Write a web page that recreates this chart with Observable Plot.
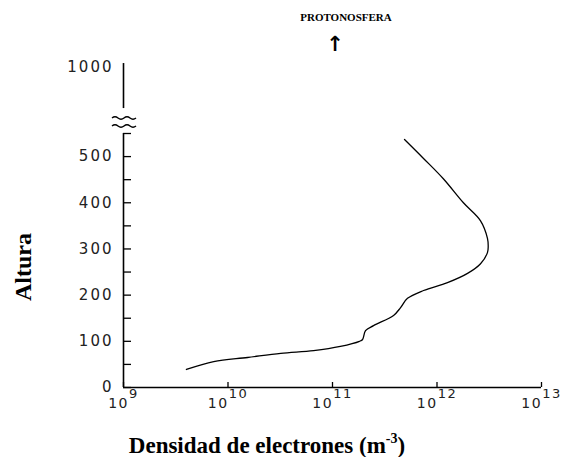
<!DOCTYPE html>
<html><head><meta charset="utf-8">
<script src="https://cdn.jsdelivr.net/npm/d3@7"></script>
<script src="https://cdn.jsdelivr.net/npm/@observablehq/plot@0.6"></script>
<style>
html,body{margin:0;padding:0;background:#fff;}
#chart{position:relative;width:565px;height:457px;}
</style></head><body><div id="chart"></div>
<script>
// Data
const altura   = [39, 56, 65, 74, 80, 89, 100, 104, 123, 134, 156, 173, 193, 210, 227, 247, 268, 292, 305, 323, 361, 400, 452, 496, 537];
const densidad = [4.0e9, 7.3e9, 1.54e10, 3.2e10, 6.6e10, 1.19e11, 1.81e11, 1.94e11, 2.07e11, 2.47e11, 3.84e11, 4.48e11, 5.22e11, 7.43e11, 1.26e12, 1.96e12, 2.61e12, 3.04e12, 3.09e12, 3.04e12, 2.61e12, 1.79e12, 1.15e12, 7.43e11, 4.89e11];

const xTicks = [1e9, 1e10, 1e11, 1e12, 1e13];
const yTickLabels = [0, 100, 200, 300, 400, 500, 1000];
const yTicks = [0, 50, 100, 150, 200, 250, 300, 350, 400, 450, 500, 550];
const yAxisSegments = [[0, 550], [720, 1027]];
const yBreak = 625;

const profile = altura.map((h, i) => ({h, n: densidad[i]}));

const tickFont = "DejaVu Sans";

const plot = Plot.plot({
  width: 565, height: 457,
  marginLeft: 123, marginRight: 24, marginTop: 60, marginBottom: 70,
  style: {background: "white", overflow: "visible"},
  x: {type: "log", domain: [1e9, 1e13]},
  y: {type: "linear", domain: [0, 550, 1000], range: [387, 133, 67]},
  marks: [
    // axis lines
    Plot.ruleX(yAxisSegments, {x: () => 1e9, y1: d => d[0], y2: d => d[1], strokeWidth: 1.6}),
    Plot.ruleY([0], {x1: 1e9, x2: 1e13, strokeWidth: 1.6}),
    // inward ticks
    Plot.ruleY(yTicks, {x1: 1e9, x2: 1e9, insetRight: -8, strokeWidth: 1.3}),
    Plot.ruleX(xTicks, {y1: 0, y2: 0, insetTop: -5, strokeWidth: 1.3}),
    // tick labels
    Plot.axisY(yTickLabels, {tickSize: 0, tickPadding: 10, fontSize: 15, fontFamily: tickFont, label: null, tickFormat: d => String(d)}),
    Plot.axisX(xTicks, {tickSize: 0, tickPadding: 11, fontSize: 14, fontFamily: tickFont, label: null, tickFormat: d => "10^" + Math.round(Math.log10(d))}),
    // profile
    Plot.line(profile, {x: "n", y: "h", curve: "catmull-rom", strokeWidth: 1.3, stroke: "black"})
  ]
});

const svg = d3.select(plot);
svg.selectAll('g[aria-label="y-axis tick label"] text').style("letter-spacing", "2px").style("fill", "#222");
svg.selectAll('g[aria-label="x-axis tick label"] text').each(function() {
  const t = this.textContent;
  const parts = t.split("^");
  const el = d3.select(this);
  el.text(null).style("letter-spacing", "1.5px").style("fill", "#222");
  el.append("tspan").text(parts[0]);
  el.append("tspan").attr("dy", "-10").style("font-size", "13px").text(parts[1]);
});

// axis break marks, placed through the scales
const bx = plot.scale("x").apply(1e9);
const by = plot.scale("y").apply(yBreak);
[-4, 4].forEach(off => {
  const y0 = by + off;
  let d = `M${bx - 11},${y0}`;
  for (let k = 0; k < 4; k++) d += ` q3,${k % 2 ? 2.5 : -2.5} 6,0`;
  svg.append("path").attr("d", d).attr("fill", "none").attr("stroke", "black").attr("stroke-width", 1.4);
});

svg.append("text")
  .attr("x", 346).attr("y", 21).attr("text-anchor", "middle")
  .style("font-family", "Liberation Serif").style("font-weight", "bold").style("font-size", "11px")
  .text("PROTONOSFERA");
svg.append("text")
  .attr("x", 335).attr("y", 51).attr("text-anchor", "middle")
  .style("font-family", "DejaVu Sans").style("font-weight", "bold").style("font-size", "21px")
  .text("↑");
svg.append("text")
  .attr("transform", "translate(31,267) rotate(-90)").attr("text-anchor", "middle")
  .style("font-family", "Liberation Serif").style("font-weight", "bold").style("font-size", "24px")
  .text("Altura");
const xl = svg.append("text")
  .attr("x", 267).attr("y", 453).attr("text-anchor", "middle")
  .style("font-family", "Liberation Serif").style("font-weight", "bold").style("font-size", "23px");
xl.append("tspan").text("Densidad de electrones (m");
xl.append("tspan").attr("dy", "-10").style("font-size", "14px").text("-3");
xl.append("tspan").attr("dy", "10").text(")");

document.getElementById("chart").appendChild(plot);
</script></body></html>
